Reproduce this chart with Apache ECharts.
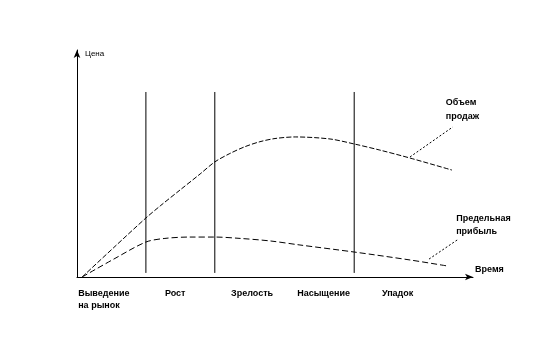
<!DOCTYPE html>
<html><head><meta charset="utf-8">
<script src="https://cdn.jsdelivr.net/npm/echarts@6/dist/echarts.min.js"></script>
<style>html,body{margin:0;padding:0;background:#fff}#c{width:555px;height:358px}</style>
</head><body><div id="c"></div>
<script>
// Stage labels and their (left) positions on the time axis
var stageNames = ['Выведение\nна рынок', 'Рост', 'Зрелость', 'Насыщение', 'Упадок'];
var stageLabelX = [0.3, 22.2, 38.9, 55.6, 77.0];
// Stage boundaries (vertical lines)
var stageBounds = [17.4, 34.8, 70.0];
var boundLow = 1.8, boundHigh = 81.5;
// Sales volume curve
var salesX = [1.3, 9.3, 17.4, 21.0, 26.0, 31.1, 34.8, 38.6, 42.4, 46.2, 50.0, 55.1, 63.9, 70.0, 76.5, 84.1, 94.7];
var salesY = [0, 13.0, 26.0, 31.3, 38.3, 45.4, 50.7, 54.4, 57.4, 59.6, 61.0, 61.7, 60.8, 58.6, 55.9, 52.4, 47.1];
// Marginal profit curve
var profitX = [1.3, 9.3, 17.4, 22.2, 28.5, 34.8, 41.2, 48.7, 56.3, 70.0, 84.1, 93.7];
var profitY = [0, 7.9, 15.4, 17.0, 17.6, 17.6, 17.0, 15.9, 14.1, 11.0, 7.5, 4.8];
// Leader lines for the curve labels
var salesLeader = [[84.1, 52.9], [94.9, 66.1]];
var profitLeader = [[88.9, 7.9], [96.0, 16.3]];
var salesName = 'Объем\nпродаж';
var profitName = 'Предельная\nприбыль';

function zip(a, b) { return a.map(function (v, i) { return [v, b[i]]; }); }
var boundData = [];
stageBounds.forEach(function (x) { boundData.push([x, boundLow], [x, boundHigh], '-'); });

var font = 'Arial, "Liberation Sans", sans-serif';
var chart = echarts.init(document.getElementById('c'));
chart.setOption({
  animation: false,
  backgroundColor: '#fff',
  grid: { left: 77, right: 82, top: 50, bottom: 81 },
  xAxis: {
    type: 'value', min: 0, max: 100,
    name: 'Время', nameLocation: 'end', nameGap: 2,
    nameTextStyle: { color: '#000', fontSize: 9, fontWeight: 'bold', fontFamily: font, align: 'left', verticalAlign: 'bottom', padding: [0, 0, 3, 0] },
    axisLine: { lineStyle: { color: '#000', width: 1 }, symbol: ['none', 'arrow'], symbolSize: [5, 8] },
    axisTick: { show: false },
    splitLine: { show: false },
    axisLabel: {
      show: true, customValues: stageLabelX, margin: 11,
      align: 'left', verticalAlign: 'top', color: '#000', fontSize: 9, fontWeight: 'bold', fontFamily: font, lineHeight: 12,
      formatter: function (v) { var i = stageLabelX.indexOf(v); return i >= 0 ? stageNames[i] : ''; }
    }
  },
  yAxis: {
    type: 'value', min: 0, max: 100,
    name: 'Цена', nameLocation: 'end', nameGap: -4,
    nameTextStyle: { color: '#000', fontSize: 8, fontFamily: font, align: 'left', verticalAlign: 'middle', padding: [0, 0, 0, 8] },
    axisLine: { lineStyle: { color: '#000', width: 1 }, symbol: ['none', 'arrow'], symbolSize: [5, 8] },
    axisTick: { show: false }, axisLabel: { show: false }, splitLine: { show: false }
  },
  series: [
    { type: 'line', data: boundData, symbol: 'none', connectNulls: false,
      lineStyle: { color: '#000', width: 1 } },
    { type: 'line', data: zip(salesX, salesY), smooth: 0.3, symbol: 'none',
      lineStyle: { color: '#000', width: 1, type: [5, 2] } },
    { type: 'line', data: zip(profitX, profitY), smooth: 0.3, symbol: 'none',
      lineStyle: { color: '#000', width: 1, type: [6, 3] } },
    { type: 'line', data: salesLeader, symbol: 'none', clip: false,
      lineStyle: { color: '#000', width: 1, type: [2, 2] },
      markPoint: { symbol: 'circle', symbolSize: 0, data: [{ coord: salesLeader[1] }],
        label: { show: true, position: 'top', distance: 3, align: 'left', offset: [-7, 0], formatter: salesName,
          color: '#000', fontSize: 9, fontWeight: 'bold', fontFamily: font, lineHeight: 14 } } },
    { type: 'line', data: profitLeader, symbol: 'none', clip: false,
      lineStyle: { color: '#000', width: 1, type: [2, 2] },
      markPoint: { symbol: 'circle', symbolSize: 0, data: [{ coord: profitLeader[1] }],
        label: { show: true, position: 'top', distance: 2, align: 'left', offset: [-1, 0], formatter: profitName,
          color: '#000', fontSize: 9, fontWeight: 'bold', fontFamily: font, lineHeight: 13 } } }
  ]
});
</script></body></html>
